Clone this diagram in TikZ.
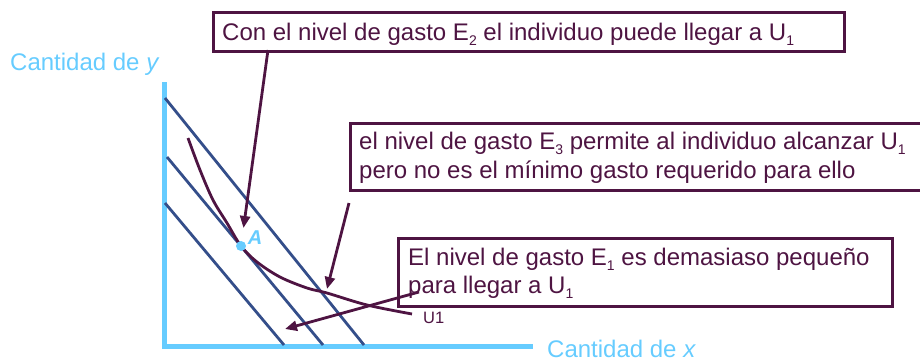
\documentclass[tikz,border=0pt]{standalone}
\usepackage{fontspec}
\setmainfont{Liberation Sans}
\usetikzlibrary{arrows.meta,calc}
\definecolor{pur}{RGB}{78,20,66}
\definecolor{bud}{RGB}{52,78,138}
\definecolor{lblue}{RGB}{102,204,255}
\newcommand{\subidx}[1]{\raisebox{-4.5pt}{\fontsize{14}{14}\selectfont #1}}
\begin{document}
\begin{tikzpicture}[x=1pt,y=-1pt,
  box/.style={draw=pur, line width=2.8pt, inner sep=0pt, anchor=north west},
  txt/.style={text=pur, font=\fontsize{24}{28}\selectfont, inner sep=0pt, anchor=base west},
  axlab/.style={text=lblue, font=\fontsize{24}{28}\selectfont, inner sep=0pt, anchor=base west},
  budget/.style={draw=bud, line width=2.8pt},
  call/.style={draw=pur, line width=2.8pt, -{Triangle[length=12pt,width=10pt]}}]
\useasboundingbox (0,0) rectangle (920,360);
\clip (0,0) rectangle (920,360);
% axes
\draw[lblue, line width=5pt] (164,82) -- (164,346) -- (533,346);
\node[axlab] (ly) at (10,70) {Cantidad de \textit{y}};
\node[axlab] (lx) at (547,357.5) {Cantidad de \textit{x}};
% budget lines
\draw[budget] (165,98) -- (364,345);
\draw[budget] (167,157) -- (323,345);
\draw[budget] (165,203) -- (284,345);
% indifference curve
\draw[pur, line width=2.8pt] plot[smooth, tension=0.55] coordinates
  {(188,138) (200,170) (213,200) (227,223) (241,246) (257,262) (280,277) (307,288) (327,293) (367,305) (412,314)};
\node[text=pur, font=\fontsize{16.5}{16.5}\selectfont, inner sep=0pt, anchor=west] (lu) at (423,318) {U1};
% point A
\node[circle, fill=lblue, inner sep=0pt, minimum size=10pt] (A) at (241,246) {};
\node[text=lblue, font=\fontsize{20}{20}\selectfont\bfseries\itshape, inner sep=0pt] (lA) at (255,238) {A};
% boxes
\node[box, minimum width=631pt, minimum height=39pt] (b1) at (212,11) {};
\node[txt] (t1) at (222,40.5) {Con el nivel de gasto E\subidx{2} el individuo puede llegar a U\subidx{1}};
\node[box, minimum width=590pt, minimum height=67pt] (b2) at (349,122) {};
\node[txt] (t2a) at (359,149.5) {el nivel de gasto E\subidx{3} permite al individuo alcanzar U\subidx{1}};
\node[txt] (t2b) at (359,178) {pero no es el mínimo gasto requerido para ello};
\node[box, minimum width=494pt, minimum height=68pt] (b3) at (397,237) {};
\node[txt] (t3a) at (408,265.7) {El nivel de gasto E\subidx{1} es demasiaso pequeño};
\node[txt] (t3b) at (408,293.5) {para llegar a U\subidx{1}};
% callout arrows
\coordinate (s1) at (268,50);
\draw[call, shorten >=13pt] (s1) -- (A);
\coordinate (s2) at (349,203);
\coordinate (e2) at (327,289);
\draw[call] (s2) -- (e2);
\coordinate (s3) at (419,292);
\coordinate (e3) at (285,329);
\draw[call] (s3) -- (e3);
\end{tikzpicture}
\end{document}
